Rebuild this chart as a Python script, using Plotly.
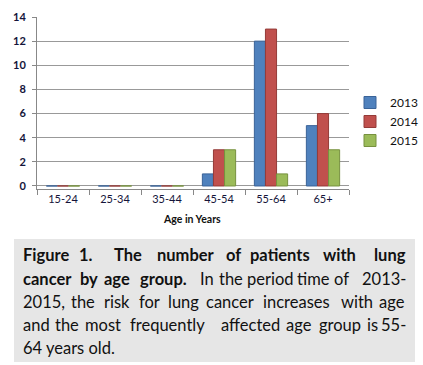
import plotly.graph_objects as go

categories = ["15-24", "25-34", "35-44", "45-54", "55-64", "65+"]
y2013 = [0, 0, 0, 1, 12, 5]
y2014 = [0, 0, 0, 3, 13, 6]
y2015 = [0, 0, 0, 3, 1, 3]
series_names = ["2013", "2014", "2015"]
y_ticks = [0, 2, 4, 6, 8, 10, 12, 14]
x_title = "Age in Years"

caption_lines = [
    [("Figure", True), ("1.", True), ("The", True), ("number", True), ("of", True),
     ("patients", True), ("with", True), ("lung", True)],
    [("cancer", True), ("by", True), ("age", True), ("group.", True), ("In", False),
     ("the", False), ("period", False), ("time", False), ("of", False), ("2013-", False)],
    [("2015,", False), ("the", False), ("risk", False), ("for", False), ("lung", False),
     ("cancer", False), ("increases", False), ("with", False), ("age", False)],
    [("and", False), ("the", False), ("most", False), ("frequently", False), ("affected", False),
     ("age", False), ("group", False), ("is", False), ("55-", False)],
    [("64 years old.", False)],
]

# ---- layout (pixel geometry) ----
W, H = 423, 365
L, R, T, B = 37, 74, 17, 176
PW = W - L - R
PH = H - T - B


def px(x):
    return (x - L) / PW


def py(y):
    return (H - B - y) / PH


colors = ["#4F81BD", "#C0504D", "#9BBB59"]
edges = ["#3A6398", "#943B38", "#77913F"]

fig = go.Figure()
for name, vals, c, e in zip(series_names, [y2013, y2014, y2015], colors, edges):
    fig.add_trace(go.Bar(x=categories, y=vals, name=name,
                         marker=dict(color=c, line=dict(color=e, width=1))))

fig.update_layout(
    width=W, height=H,
    margin=dict(l=L, r=R, t=T, b=B, pad=0, autoexpand=False),
    paper_bgcolor="white", plot_bgcolor="white",
    barmode="group", bargap=0.36, bargroupgap=0.0,
    font=dict(family="Lato", color="#1a1a3a"),
    legend=dict(x=px(350), y=py(88), xanchor="left", yanchor="top",
                font=dict(size=12, family="Lato", color="#111"),
                itemwidth=30, bgcolor="rgba(0,0,0,0)"),
    xaxis=dict(showline=True, linecolor="#888", linewidth=1, ticks="outside",
               ticklen=5, tickcolor="#888", tickson="boundaries",
               tickfont=dict(size=11, family="Lato", color="#14143a"),
               showgrid=False),
    yaxis=dict(range=[-0.25, 14], tickvals=y_ticks, showline=True, linecolor="#888",
               linewidth=1, ticks="outside", ticklen=4, tickcolor="#888",
               showgrid=True, gridcolor="#999", gridwidth=1, zeroline=False,
               tickfont=dict(size=11, family="Lato", color="#14143a", weight="bold"),
               ticklabelstandoff=4),
)

# axis title
fig.add_annotation(x=px(192), y=py(219), xref="paper", yref="paper", text="<b>" + x_title + "</b>",
                   showarrow=False, xanchor="center", yanchor="middle",
                   font=dict(size=10.5, family="Lato", color="#111"))

# caption box
fig.add_shape(type="rect", xref="paper", yref="paper", x0=px(14), x1=px(415), y0=py(239), y1=py(362),
              fillcolor="#E6E6E6", line=dict(width=0), layer="below")

line_y = [255, 279, 302, 325, 348]
word_spans = [
    [(21, 73), (81, 91), (108, 147), (152, 220), (223, 243), (249, 311), (321, 358), (368, 408)],
    [(21, 75), (80, 97), (102, 132), (136, 191), (199, 214), (218, 243), (247, 293), (298, 329),
     (334, 348), (353, 408)],
    [(21, 57), (69, 96), (102, 132), (138, 161), (166, 201), (207, 253), (260, 333), (342, 373),
     (378, 407)],
    [(21, 49), (54, 79), (84, 121), (126, 209), (222, 278), (284, 313), (318, 362), (367, 377),
     (382, 408)],
    [(21, 117)],
]
for words, spans, yy in zip(caption_lines, word_spans, line_y):
    n = len(words)
    for i, ((w, bold), (a, b)) in enumerate(zip(words, spans)):
        if n == 1 or i == 0:
            xa, xx = "left", a
        elif i == n - 1:
            xa, xx = "right", b
        else:
            xa, xx = "center", (a + b) / 2
        fig.add_annotation(x=px(xx), y=py(yy), xref="paper", yref="paper",
                           text=("<b>%s</b>" % w) if bold else w, showarrow=False,
                           xanchor=xa, yanchor="middle",
                           font=dict(size=16.5, family="Lato", color="#111"))

fig.write_html("out.html", config={"displayModeBar": False},
               post_script="document.body.style.margin='0px';")
